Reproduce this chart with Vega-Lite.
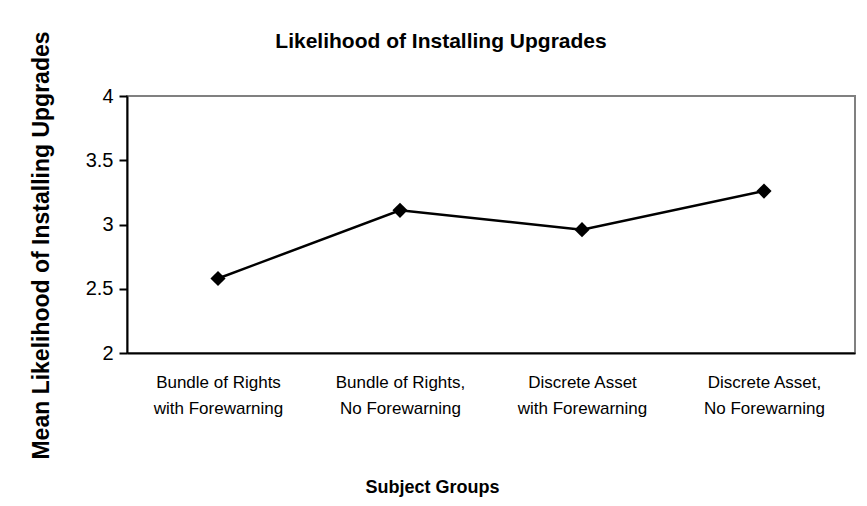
{
  "$schema": "https://vega.github.io/schema/vega-lite/v6.json",
  "width": 728,
  "height": 257,
  "autosize": "none",
  "padding": {"left": 127, "top": 96, "right": 12, "bottom": 153},
  "background": "white",
  "title": {
    "text": "Likelihood of Installing Upgrades",
    "font": "Liberation Sans",
    "fontSize": 21,
    "fontWeight": "bold",
    "color": "black",
    "anchor": "middle",
    "dx": -50,
    "offset": 0,
    "dy": 21
  },
  "data": {
    "values": [
      {"group": "Bundle of Rights|with Forewarning", "mean": 2.58},
      {"group": "Bundle of Rights,|No Forewarning", "mean": 3.11},
      {"group": "Discrete Asset|with Forewarning", "mean": 2.96},
      {"group": "Discrete Asset,|No Forewarning", "mean": 3.26}
    ]
  },
  "encoding": {
    "x": {
      "field": "group",
      "type": "nominal",
      "sort": null,
      "scale": {"paddingInner": 0, "paddingOuter": 0},
      "axis": {
        "title": "Subject Groups",
        "labelExpr": "split(datum.label, '|')",
        "labelAngle": 0,
        "labelFont": "Liberation Sans",
        "labelFontSize": 17,
        "labelColor": "black",
        "labelLineHeight": 26,
        "labelPadding": 21,
        "ticks": false,
        "domainColor": "black",
        "domainWidth": 2,
        "titleFont": "Liberation Sans",
        "titleFontSize": 18,
        "titleFontWeight": "bold",
        "titleColor": "black",
        "titleX": 305,
        "titleY": 134,
        "titleAlign": "center",
        "titleBaseline": "middle"
      }
    },
    "y": {
      "field": "mean",
      "type": "quantitative",
      "scale": {"domain": [2, 4], "nice": false, "zero": false},
      "axis": {
        "title": "Mean Likelihood of Installing Upgrades",
        "values": [2, 2.5, 3, 3.5, 4],
        "format": "~g",
        "grid": false,
        "labelFont": "Liberation Sans",
        "labelFontSize": 20,
        "labelColor": "black",
        "labelPadding": 6,
        "tickSize": 8,
        "tickWidth": 2,
        "tickColor": "black",
        "domainColor": "black",
        "domainWidth": 2,
        "titleFont": "Liberation Sans",
        "titleFontSize": 23,
        "titleFontWeight": "bold",
        "titleColor": "black",
        "titleX": -86,
        "titleY": 149,
        "titleAngle": 270,
        "titleAlign": "center",
        "titleBaseline": "middle"
      }
    }
  },
  "layer": [
    {"mark": {"type": "line", "color": "black", "strokeWidth": 2.5}},
    {"mark": {"type": "point", "shape": "diamond", "filled": true, "color": "black", "opacity": 1, "size": 230}}
  ],
  "config": {
    "view": {"stroke": "#808080", "strokeWidth": 2}
  }
}
